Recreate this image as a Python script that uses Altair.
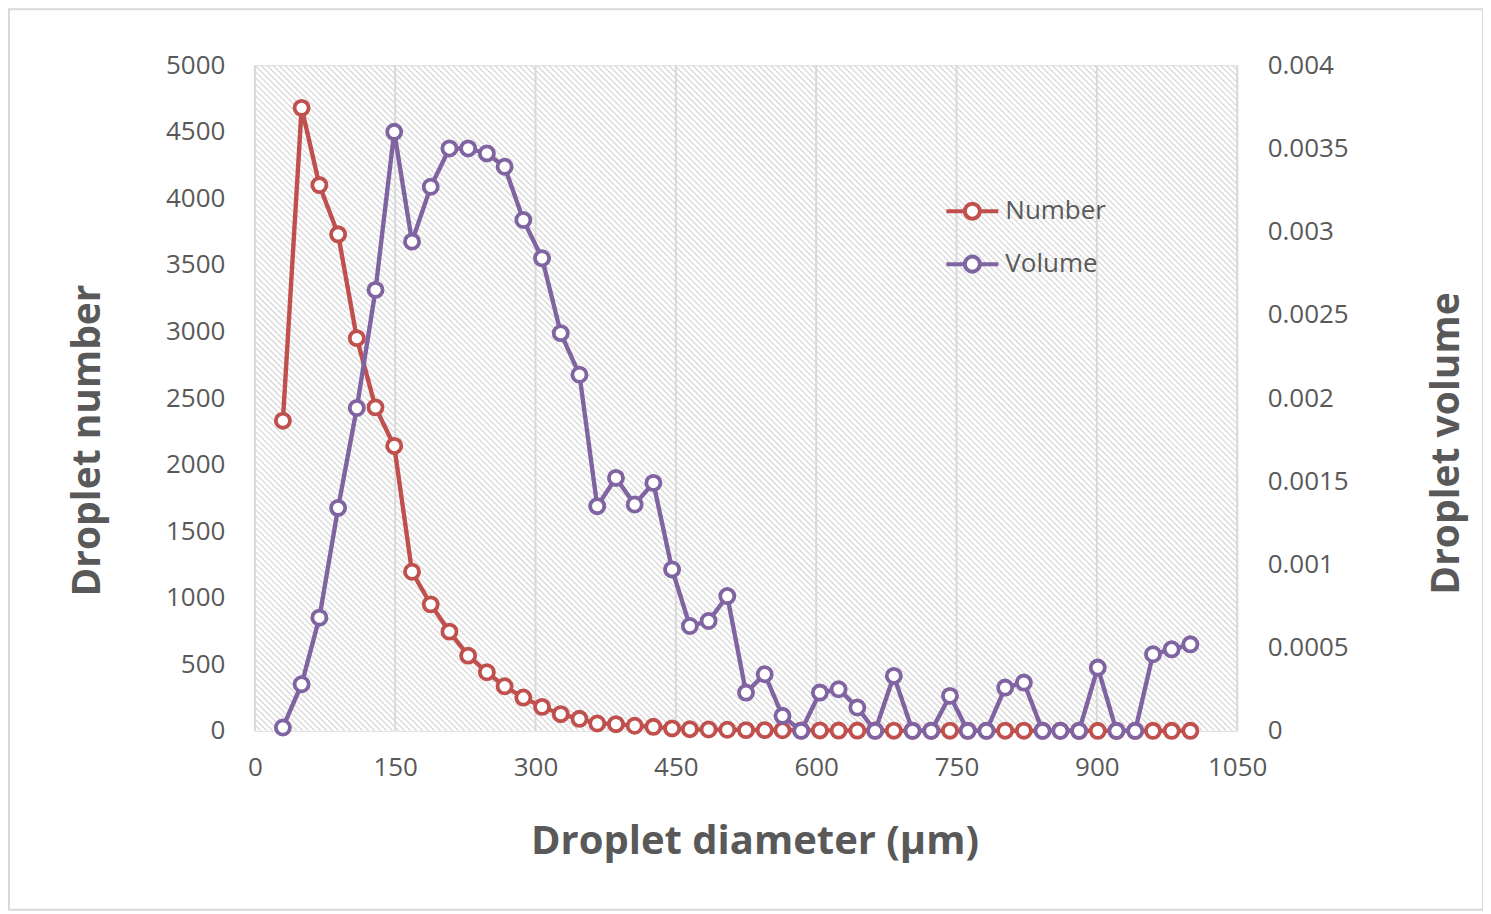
import altair as alt
import numpy as np
import pandas as pd

# ---------------- data ----------------
diameter = [30, 50, 69, 89, 109, 129, 149, 168, 188, 208, 228, 248, 267, 287, 307,
            327, 347, 366, 386, 406, 426, 446, 465, 485, 505, 525, 545, 564, 584, 604,
            624, 644, 663, 683, 703, 723, 743, 762, 782, 802, 822, 842, 861, 881, 901,
            921, 941, 960, 980, 1000]
number = [2330, 4680, 4100, 3730, 2950, 2430, 2140, 1195, 950, 745, 565, 440, 335, 250, 180,
          125, 90, 55, 50, 38, 30, 18, 12, 10, 8, 5, 5, 4, 3, 3,
          2, 2, 2, 1, 1, 1, 1, 1, 1, 1, 1, 1, 1, 0, 0,
          0, 0, 0, 0, 0]
volume = [0.00002, 0.00028, 0.00068, 0.00134, 0.00194, 0.00265, 0.0036, 0.00294, 0.00327, 0.0035,
          0.0035, 0.00347, 0.00339, 0.00307, 0.00284, 0.00239, 0.00214, 0.00135, 0.00152, 0.00136,
          0.00149, 0.00097, 0.00063, 0.00066, 0.00081, 0.00023, 0.00034, 0.00009, 0, 0.00023,
          0.00025, 0.00014, 0, 0.00033, 0, 0, 0.00021, 0, 0, 0.00026,
          0.00029, 0, 0, 0, 0.00038, 0, 0, 0.00046, 0.00049, 0.00052]
series_names = ["Number", "Volume"]
series_colors = ["#C0504D", "#8064A2"]
x_ticks = [0, 150, 300, 450, 600, 750, 900, 1050]
y_left_ticks = [0, 500, 1000, 1500, 2000, 2500, 3000, 3500, 4000, 4500, 5000]
y_right_ticks = [0, 0.0005, 0.001, 0.0015, 0.002, 0.0025, 0.003, 0.0035, 0.004]

# ---------------- layout ----------------
W, H = 983, 666
PAD_L, PAD_T, PAD_R, PAD_B = 247, 57, 246, 181
FONT = "Open Sans"
TXT = "#595959"

df_num = pd.DataFrame({"d": diameter, "v": number, "series": "Number"})
df_vol = pd.DataFrame({"d": diameter, "v": volume, "series": "Volume"})

# decorative diagonal hatch of the plot area
offs = np.arange(-H, W, 6.0)
hatch_df = pd.DataFrame({"x1": offs, "x2": offs + H, "y1": 0.0, "y2": float(H)})
hatch = alt.Chart(hatch_df).mark_rule(clip=True, stroke="#d9d9d9", strokeWidth=1.3).encode(
    x=alt.X("x1:Q", scale=None, axis=None),
    x2="x2:Q",
    y=alt.Y("y1:Q", scale=None, axis=None),
    y2="y2:Q",
)

xscale = alt.Scale(domain=[0, 1050], nice=False, zero=False)
xaxis = alt.Axis(values=x_ticks, format="d", grid=False, ticks=False, domain=False,
                 labelFlush=False, labelBound=False,
                 labelFontSize=26, labelFont=FONT, labelColor=TXT, labelPadding=24,
                 title="Droplet diameter (µm)", titleFontSize=40, titleFont=FONT,
                 titleFontWeight="bold", titleColor=TXT, titleY=111, titleX=500,
                 titleAlign="center", titleBaseline="middle")

grid = alt.Chart(pd.DataFrame({"g": x_ticks})).mark_rule(stroke="#d9d9d9", strokeWidth=2).encode(
    x=alt.X("g:Q", scale=xscale, axis=xaxis)
)

stroke_enc = alt.Stroke(
    "series:N",
    scale=alt.Scale(domain=series_names, range=series_colors),
    legend=alt.Legend(
        title=None, orient="none", legendX=690, legendY=118,
        symbolType="M-1,0L-0.29,0M0.29,0L1,0M0.29,0A0.29,0.29,0,1,1,-0.29,0A0.29,0.29,0,1,1,0.29,0Z",
        symbolSize=2704, symbolStrokeWidth=4, symbolFillColor="white",
        labelFontSize=26, labelFont=FONT, labelColor=TXT, labelOffset=5,
        rowPadding=9,
    ),
)


def series_layer(df, yscale, yaxis):
    base = alt.Chart(df).encode(
        x=alt.X("d:Q", scale=xscale, axis=xaxis),
        y=alt.Y("v:Q", scale=yscale, axis=yaxis),
        stroke=stroke_enc,
    )
    line = base.mark_line(strokeWidth=4.4)
    pts = base.mark_point(fill="white", filled=False, fillOpacity=1, size=200,
                          strokeWidth=3.8, opacity=1)
    return alt.layer(line, pts)


left_axis = alt.Axis(orient="left", values=y_left_ticks, format="d", grid=False, ticks=False,
                     domain=False, labelFontSize=26, labelFont=FONT, labelColor=TXT,
                     labelPadding=30, title="Droplet number", titleFontSize=39, titleFont=FONT,
                     titleFontWeight="bold", titleColor=TXT, titleX=-167, titleY=375,
                     titleAngle=270, titleBaseline="middle", titleAlign="center")
right_axis = alt.Axis(orient="right", values=y_right_ticks, format="~g", grid=False, ticks=False,
                      domain=False, labelFontSize=26, labelFont=FONT, labelColor=TXT,
                      labelPadding=30, title="Droplet volume", titleFontSize=39, titleFont=FONT,
                      titleFontWeight="bold", titleColor=TXT, titleX=209, titleY=378,
                      titleAngle=270, titleBaseline="middle", titleAlign="center")

num_layer = series_layer(df_num, alt.Scale(domain=[0, 5000], nice=False), left_axis)
vol_layer = series_layer(df_vol, alt.Scale(domain=[0, 0.004], nice=False), right_axis)

frame = alt.Chart(pd.DataFrame({"k": [0]})).mark_rect(
    filled=False, stroke="#d9d9d9", strokeWidth=2
).encode(
    x=alt.value(-246), x2=alt.value(W + PAD_R),
    y=alt.value(-56), y2=alt.value(H + PAD_B - 2),
)

chart = alt.layer(frame, hatch, grid, num_layer, vol_layer).resolve_scale(
    y="independent"
).properties(
    width=W, height=H,
    autosize=alt.AutoSizeParams(type="none"),
    padding={"left": PAD_L, "top": PAD_T, "right": PAD_R, "bottom": PAD_B},
).configure_view(stroke=None).configure(background="white")

chart.save("out.html", embed_options={"renderer": "svg", "actions": False})
